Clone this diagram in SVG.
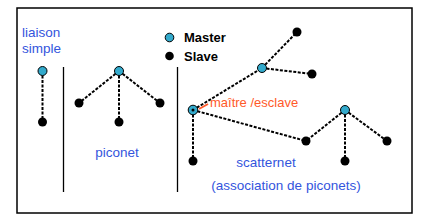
<svg xmlns="http://www.w3.org/2000/svg" width="422" height="218" viewBox="0 0 422 218">
<style>
.frame{fill:#fff;stroke:#000;stroke-width:1.5}
.sep{stroke:#000;stroke-width:1.3}
.link{stroke:#000;stroke-width:2;stroke-dasharray:3 1.5;fill:none}
.master{fill:#33aacc;stroke:#000;stroke-width:1}
.slave{fill:#000}
.blue{font-family:"Liberation Sans",Arial,sans-serif;font-size:13.5px;fill:#3355dd}
.legend{font-family:"Liberation Sans",Arial,sans-serif;font-size:13px;font-weight:bold;fill:#000}
.orange{font-family:"Liberation Sans",Arial,sans-serif;font-size:13px;fill:#ff5a2a}
</style>
<rect class="frame" x="17" y="8" width="395" height="205"/>
<line class="sep" x1="63.5" y1="67" x2="63.5" y2="192"/>
<line class="sep" x1="177.5" y1="67" x2="177.5" y2="192"/>
<g id="connectors">
<line class="link" x1="42.5" y1="71" x2="42.5" y2="122"/>
<line class="link" x1="119" y1="71" x2="79" y2="103"/>
<line class="link" x1="119" y1="71" x2="160" y2="103"/>
<line class="link" x1="119" y1="71" x2="119" y2="122"/>
<line class="link" x1="262" y1="68" x2="297" y2="32"/>
<line class="link" x1="262" y1="68" x2="312" y2="74"/>
<line class="link" x1="193" y1="110" x2="262" y2="68"/>
<line class="link" x1="193" y1="110" x2="306" y2="141"/>
<line class="link" x1="193" y1="110" x2="193" y2="161"/>
<line class="link" x1="345" y1="110" x2="306" y2="141"/>
<line class="link" x1="345" y1="110" x2="387" y2="141"/>
<line class="link" x1="345" y1="110" x2="345" y2="161"/>
<line stroke="#ff5a2a" stroke-width="2" x1="199" y1="109" x2="208" y2="104"/>
</g>
<g id="legend">
<circle class="master" cx="169.5" cy="37.5" r="4.3"/>
<circle class="slave" cx="169.5" cy="56" r="4.3"/>
<text class="legend" x="184" y="42">Master</text>
<text class="legend" x="184" y="61">Slave</text>
</g>
<g id="liaison">
<circle class="master" cx="42.5" cy="71" r="4.5"/>
<circle class="slave" cx="42.5" cy="122" r="4.5"/>
<text class="blue" x="22" y="37">liaison</text>
<text class="blue" x="22" y="53">simple</text>
</g>
<g id="piconet">
<circle class="master" cx="119" cy="71" r="4.5"/>
<circle class="slave" cx="79" cy="103" r="4.5"/>
<circle class="slave" cx="160" cy="103" r="4.5"/>
<circle class="slave" cx="119" cy="122" r="4.5"/>
<text class="blue" x="117" y="157" text-anchor="middle">piconet</text>
</g>
<g id="scatternet">
<circle class="master" cx="262" cy="68" r="4.5"/>
<circle class="slave" cx="297" cy="32" r="4.5"/>
<circle class="slave" cx="312" cy="74" r="4.5"/>
<circle class="master" cx="193" cy="110" r="4.8" stroke-width="1.6"/>
<circle class="slave" cx="193" cy="110" r="1.5"/>
<circle class="slave" cx="193" cy="161" r="4.5"/>
<circle class="master" cx="345" cy="110" r="4.5"/>
<circle class="slave" cx="306" cy="141" r="4.5"/>
<circle class="slave" cx="387" cy="141" r="4.5"/>
<circle class="slave" cx="345" cy="161" r="4.5"/>
<text class="orange" x="210" y="107">maître /esclave</text>
<text class="blue" x="266" y="167" text-anchor="middle">scatternet</text>
<text class="blue" x="286" y="190" text-anchor="middle">(association de piconets)</text>
</g>
</svg>
